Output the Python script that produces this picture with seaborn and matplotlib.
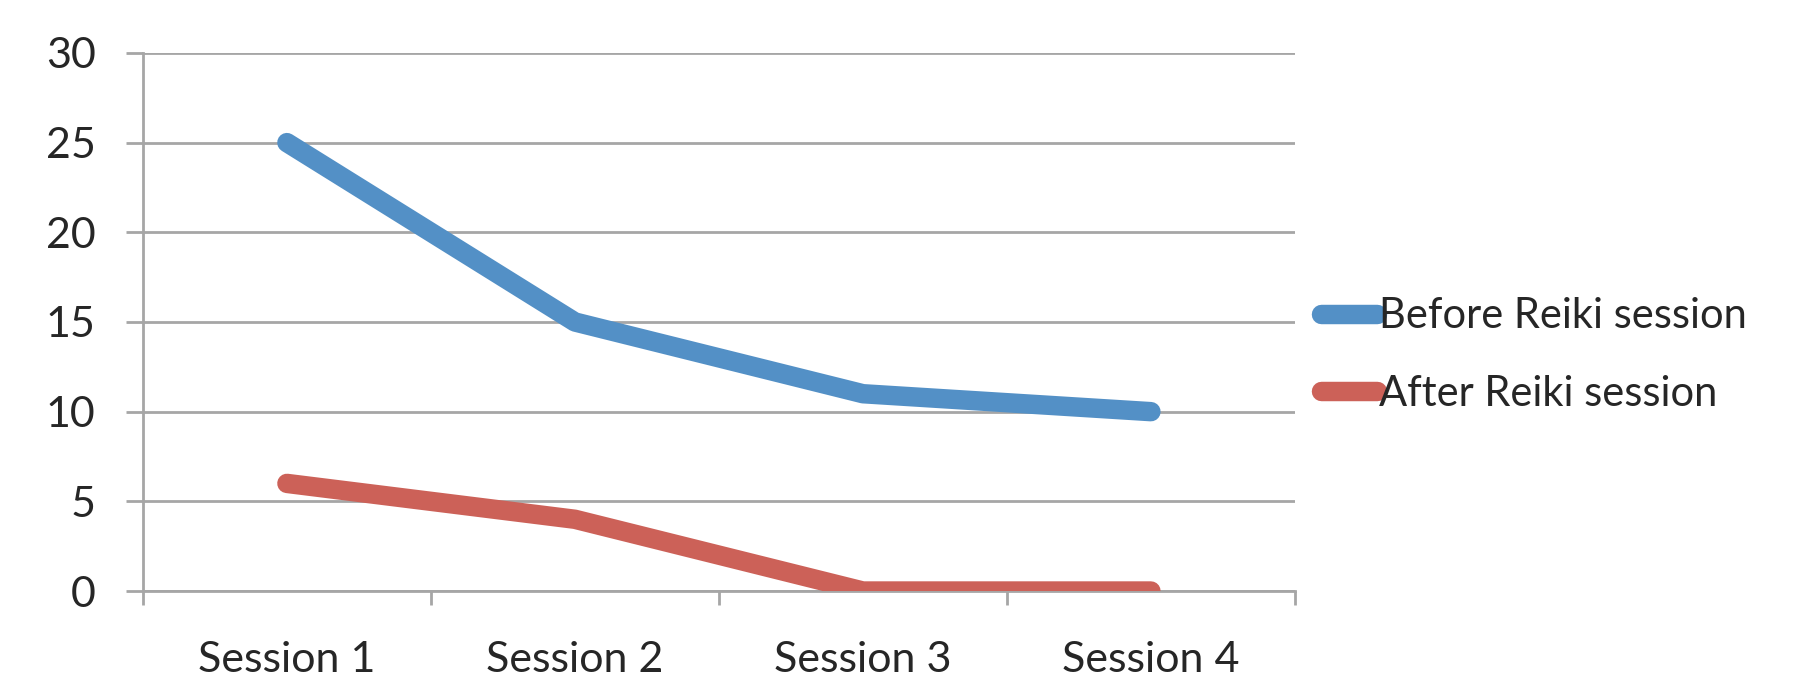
import pandas as pd
import matplotlib.pyplot as plt
import seaborn as sns

sessions = ["Session 1", "Session 2", "Session 3", "Session 4"]
before = [25, 15, 11, 10]
after = [6, 4, 0, 0]
series_names = ["Before Reiki session", "After Reiki session"]
colors = ["#5390C6", "#CC6158"]

df = pd.DataFrame({
    "session": sessions * 2,
    "value": before + after,
    "series": [series_names[0]] * 4 + [series_names[1]] * 4,
})

sns.set_style("white")
plt.rcParams['font.family'] = ['Lato', 'DejaVu Sans']

fig = plt.figure(figsize=(18, 6.76), dpi=100)
ax = fig.add_axes([0.0794, 0.1257, 0.64, 0.796])

sns.lineplot(data=df, x="session", y="value", hue="series", palette=colors,
             linewidth=14, sort=False, ax=ax, legend=False,
             solid_capstyle="round", solid_joinstyle="round", zorder=3)

ax.set_xlim(-0.5, 3.5)
ax.set_ylim(0, 30)
ax.set_yticks(range(0, 31, 5))
ax.set_xticks(range(4))
ax.set_xticklabels(sessions)
ax.set_xticks([-0.5, 0.5, 1.5, 2.5, 3.5], minor=True)
ax.set_xlabel("")
ax.set_ylabel("")

grid_c = "#A6A6A6"
ax.yaxis.grid(True, color=grid_c, linewidth=2)
ax.xaxis.grid(False)
for s in ["top", "right"]:
    ax.spines[s].set_visible(False)
ax.spines["left"].set_color(grid_c)
ax.spines["left"].set_linewidth(2)
ax.spines["bottom"].set_color(grid_c)
ax.spines["bottom"].set_linewidth(2)

ax.tick_params(axis="y", which="major", length=12, width=2, color=grid_c,
               labelsize=31, pad=22, left=True)
ax.tick_params(axis="x", which="major", length=0, labelsize=31, pad=36)
ax.tick_params(axis="x", which="minor", length=10, width=2, color=grid_c,
               bottom=True)

handles = [plt.Line2D([], [], color=c, linewidth=14, solid_capstyle="round")
           for c in colors]
fig.legend(handles, series_names, loc="center left",
           bbox_to_anchor=(0.713, 0.475), frameon=False, fontsize=30,
           handlelength=1.35, handletextpad=0.05, labelspacing=0.95)

plt.savefig("out.png", dpi=100)
